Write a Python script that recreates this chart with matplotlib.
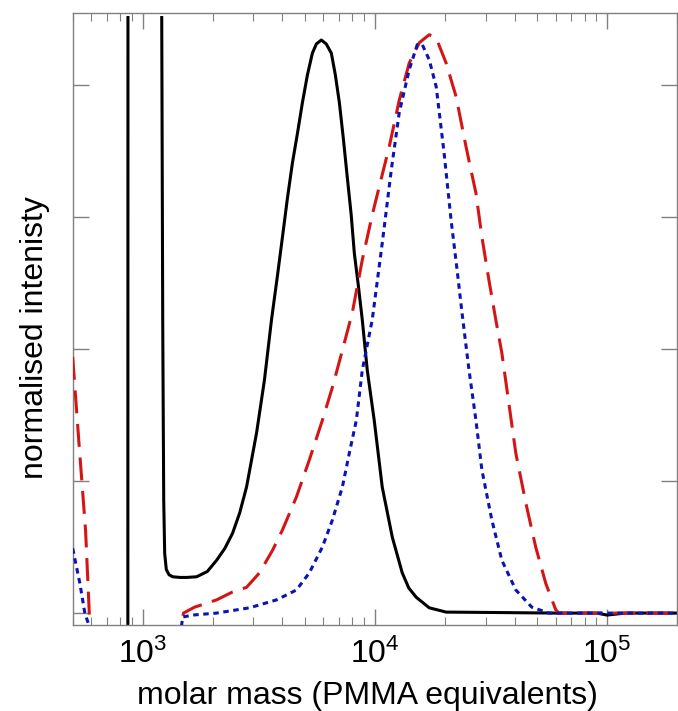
import numpy as np
import matplotlib
matplotlib.use("Agg")
import matplotlib.pyplot as plt

plt.rcParams["font.family"] = ["Liberation Sans", "DejaVu Sans"]

# ---------------------------------------------------------
# Data (molar mass, normalised intensity)
# NaN splits the black trace into the solvent spike and the main curve
# ---------------------------------------------------------
black_mass = [800, 863, 864, 865, np.nan,
              1209, 1221, 1233, 1245, 1265, 1300, 1348, 1450, 1550, 1709,
              1900, 2083, 2260, 2441, 2620, 2803, 3096, 3347, 3589, 3811,
              4003, 4206, 4418, 4645, 4876, 5125, 5383, 5600, 5884, 6180,
              6498, 6761, 7036, 7312, 7605, 7912, 8161, 8485, 8831, 9276,
              9939, 10760, 11890, 13120, 14000, 15070, 17150, 20280, 30000,
              60000, 90000, 100000, 120000, 200000]
black_int = [-0.6, -0.6, 0.0, 0.902, np.nan,
             0.902, 0.44, 0.171, 0.09, 0.066, 0.058, 0.055, 0.054, 0.054, 0.055,
             0.063, 0.080, 0.098, 0.121, 0.152, 0.191, 0.273, 0.353, 0.444, 0.512,
             0.570, 0.629, 0.682, 0.727, 0.773, 0.815, 0.848, 0.862, 0.868, 0.862,
             0.848, 0.815, 0.773, 0.720, 0.661, 0.603, 0.545, 0.497, 0.444, 0.368,
             0.292, 0.191, 0.115, 0.061, 0.038, 0.024, 0.008, 0.0015, 0.001,
             0.0, 0.0, -0.003, 0.0, 0.0]

red_mass = [500, 532, 568, 593, 700, 1400, 1473, 1500, 1674, 1890, 2083,
            2441, 2803, 3187, 3625, 4003, 4597, 5224, 5944, 6566, 7249, 7998,
            8831, 9744, 10760, 11530, 12740, 14060, 15540, 17150, 18380, 20280,
            22390, 24710, 27250, 28900, 30970, 33190, 35230, 37760, 40470,
            44670, 49290, 54450, 60110, 62000, 200000]
red_int = [0.388, 0.258, 0.126, -0.02, -0.3, -0.1, -0.015, 0.0, 0.009, 0.015, 0.020,
           0.032, 0.039, 0.061, 0.095, 0.126, 0.176, 0.232, 0.292, 0.342, 0.398, 0.455,
           0.535, 0.603, 0.664, 0.706, 0.777, 0.833, 0.864, 0.876, 0.871, 0.833,
           0.782, 0.706, 0.636, 0.570, 0.505, 0.444, 0.394, 0.318, 0.242,
           0.167, 0.100, 0.045, 0.005, 0.0, 0.0]

blue_mass = [500, 537, 564, 587, 700, 1400, 1473, 1488, 1643, 2083, 2887,
             3774, 4597, 5224, 5944, 6566, 7249, 7762, 8325, 8831, 9744, 10760,
             11770, 12740, 14060, 15230, 16010, 17150, 18380, 19870, 21300,
             22600, 23730, 25440, 27250, 28900, 31900, 35230, 40470, 47400,
             56100, 200000]
blue_int = [0.098, 0.045, 0.0, -0.018, -0.2, -0.1, -0.018, -0.006, -0.003, 0.0, 0.008,
            0.020, 0.035, 0.061, 0.100, 0.141, 0.191, 0.242, 0.292, 0.368, 0.444, 0.560,
            0.671, 0.758, 0.823, 0.861, 0.861, 0.838, 0.797, 0.697, 0.595,
            0.520, 0.455, 0.368, 0.292, 0.217, 0.141, 0.080, 0.035, 0.009,
            0.0, 0.0]

y_ticks = [0.0, 0.2, 0.4, 0.6, 0.8]

fig = plt.figure(figsize=(6.78, 7.11), dpi=100)
ax = fig.add_axes([0.1072, 0.121, 0.8913, 0.8608])

ax.plot(black_mass, black_int, color="black", lw=2.2, zorder=2)
ax.plot(red_mass, red_int, color="#d41515", lw=2.2, dashes=(7.5, 3.5), zorder=3)
ax.plot(blue_mass, blue_int, color="#0a14b4", lw=2.2, dashes=(1.8, 1.5), zorder=4)

ax.set_xscale("log")
ax.set_xlim(500, 2.0e5)
ax.set_ylim(-0.018, 0.909)

grey = "#808080"
for sp in ax.spines.values():
    sp.set_color(grey)
    sp.set_linewidth(1.0)

ax.set_yticks(y_ticks)
ax.set_yticklabels([])
ax.tick_params(axis="both", which="both", direction="in", colors=grey,
               top=True, right=True, labelcolor="black")
ax.tick_params(axis="x", which="major", length=11.5, width=1.0,
               labelsize=23, pad=10)
ax.tick_params(axis="x", which="minor", length=5.8, width=0.8)
ax.tick_params(axis="y", which="major", length=11.5, width=1.0)

ax.set_xlabel("molar mass (PMMA equivalents)", fontsize=23)
ax.xaxis.set_label_coords(0.487, -0.129)
ax.xaxis.label.set_verticalalignment("baseline")

ax.set_ylabel("normalised intenisty", fontsize=23)
ax.yaxis.set_label_coords(-0.038, 0.469)

fig.savefig("out.png", dpi=100)
